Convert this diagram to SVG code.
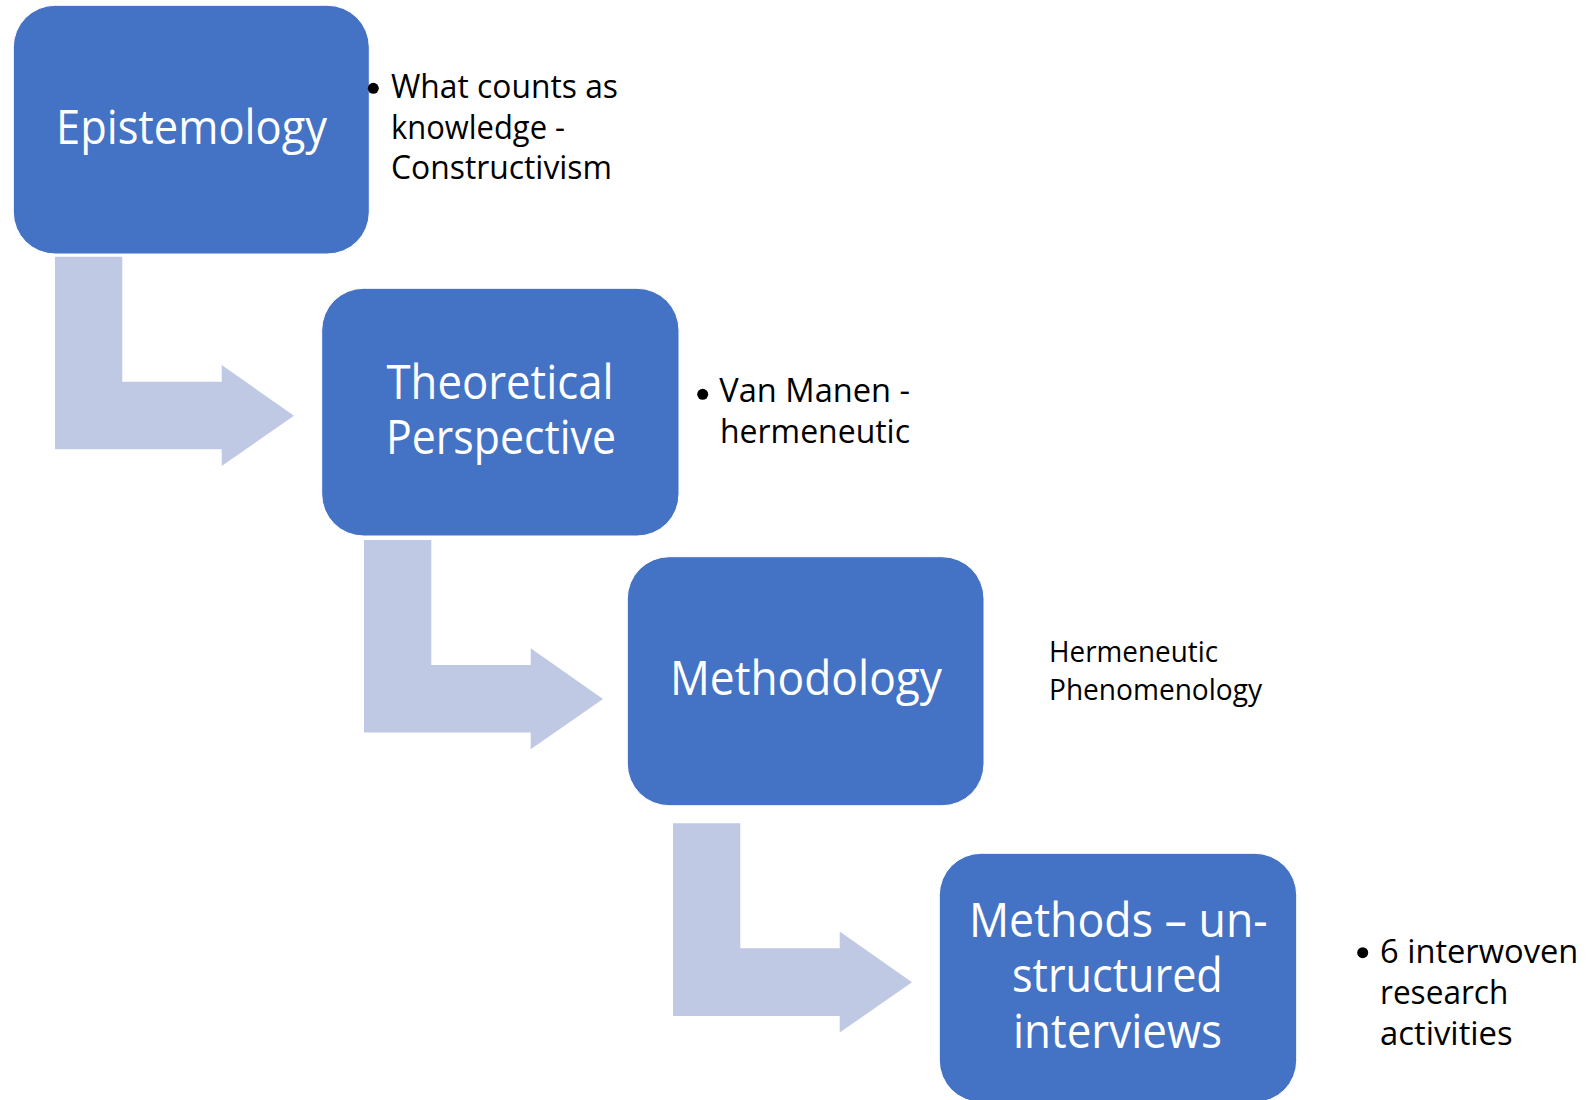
<svg xmlns="http://www.w3.org/2000/svg" xmlns:xlink="http://www.w3.org/1999/xlink" width="1589" height="1100" viewBox="0 0 1589 1100">
  <style>
    .box { fill: #4472C4; stroke: #ffffff; stroke-width: 1; }
    .box-label { font-family: "Open Sans", "Noto Sans", "Liberation Sans", sans-serif; font-size: 47px; fill: #ffffff; text-anchor: middle; }
    .note { font-family: "Open Sans", "Noto Sans", "Liberation Sans", sans-serif; font-size: 33px; fill: #000000; }
    .note-sm { font-family: "Open Sans", "Noto Sans", "Liberation Sans", sans-serif; font-size: 28.5px; fill: #000000; }
    .bent-arrow { fill: #BFC9E3; }
    .bullet { fill: #000000; }
  </style>
  <defs>
    <!-- bent down-then-right arrow, drawn at the first step's position -->
    <path id="bent" d="M55,256.7 H122.3 V381.7 H221.7 V365 L294,415.7 L221.7,466 V449.3 H55 Z"/>
  </defs>

  <rect width="1589" height="1100" fill="#ffffff"/>

  <g id="connectors">
    <use xlink:href="#bent" class="bent-arrow"/>
    <use xlink:href="#bent" class="bent-arrow" transform="translate(309,283.3)"/>
    <use xlink:href="#bent" class="bent-arrow" transform="translate(618,566.6)"/>
  </g>

  <g id="epistemology">
    <rect class="box" x="13.3" y="5.3" width="356" height="248.7" rx="42" ry="42"/>
    <text class="box-label" x="191.5" y="144" textLength="271" lengthAdjust="spacingAndGlyphs">Epistemology</text>
  </g>

  <g id="epistemology-note">
    <circle class="bullet" cx="373.3" cy="88.3" r="5.5"/>
    <text class="note" x="391" y="98.3" textLength="227" lengthAdjust="spacingAndGlyphs">What counts as</text>
    <text class="note" x="391" y="138.8" textLength="174" lengthAdjust="spacingAndGlyphs">knowledge -</text>
    <text class="note" x="391" y="179.3" textLength="221" lengthAdjust="spacingAndGlyphs">Constructivism</text>
  </g>

  <g id="theoretical-perspective">
    <rect class="box" x="321.7" y="288.3" width="357.3" height="247.7" rx="42" ry="42"/>
    <text class="box-label" x="500" y="399" textLength="227" lengthAdjust="spacingAndGlyphs">Theoretical</text>
    <text class="box-label" x="501" y="454" textLength="230" lengthAdjust="spacingAndGlyphs">Perspective</text>
  </g>

  <g id="theoretical-note">
    <circle class="bullet" cx="702.7" cy="394.3" r="5.5"/>
    <text class="note" x="719.3" y="401.7" textLength="190.7" lengthAdjust="spacingAndGlyphs">Van Manen -</text>
    <text class="note" x="720" y="442.5" textLength="190" lengthAdjust="spacingAndGlyphs">hermeneutic</text>
  </g>

  <g id="methodology">
    <rect class="box" x="627.3" y="556.7" width="356.7" height="249" rx="42" ry="42"/>
    <text class="box-label" x="806" y="695" textLength="272" lengthAdjust="spacingAndGlyphs">Methodology</text>
  </g>

  <g id="methodology-note">
    <text class="note-sm" x="1049" y="662" textLength="169" lengthAdjust="spacingAndGlyphs">Hermeneutic</text>
    <text class="note-sm" x="1049" y="700" textLength="213" lengthAdjust="spacingAndGlyphs">Phenomenology</text>
  </g>

  <g id="methods">
    <rect class="box" x="939.3" y="853.3" width="357.4" height="249" rx="42" ry="42"/>
    <text class="box-label" x="1118.3" y="936.7" textLength="298.7" lengthAdjust="spacingAndGlyphs">Methods – un-</text>
    <text class="box-label" x="1117.4" y="992.3" textLength="210.7" lengthAdjust="spacingAndGlyphs">structured</text>
    <text class="box-label" x="1117.5" y="1048" textLength="209" lengthAdjust="spacingAndGlyphs">interviews</text>
  </g>

  <g id="methods-note">
    <circle class="bullet" cx="1362.7" cy="952.7" r="5.5"/>
    <text class="note" x="1380" y="963.3" textLength="198.3" lengthAdjust="spacingAndGlyphs">6 interwoven</text>
    <text class="note" x="1380" y="1004" textLength="128.3" lengthAdjust="spacingAndGlyphs">research</text>
    <text class="note" x="1380" y="1045" textLength="132.7" lengthAdjust="spacingAndGlyphs">activities</text>
  </g>
</svg>
